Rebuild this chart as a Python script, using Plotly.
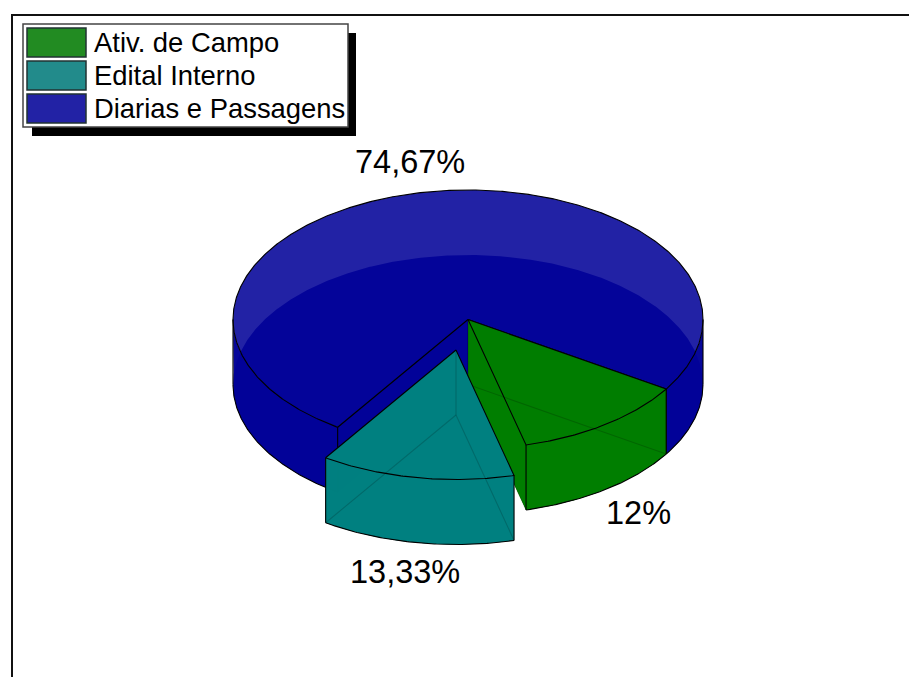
import numpy as np
import plotly.graph_objects as go

# values
categories = ["Ativ. de Campo", "Edital Interno", "Diarias e Passagens"]
percents = [12, 13.33, 74.67]
percent_labels = ["12%", "13,33%", "74,67%"]

swatch_colors = ["#228b22", "#228b8b", "#2222a5"]
# blue is see-through (top face over bottom face goes darker), the other two nearly solid
face_colors = ["rgba(0,125,0,0.97)", "rgba(0,128,128,0.97)", "rgba(0,0,151,0.867)"]
wall_colors = ["rgba(0,125,0,0.98)", "rgba(0,128,128,0.98)", "rgba(2,2,152,0.98)"]

# pie geometry in screen pixels
CX, CY = 468, 319.5
RX, RY = 235, 129.5
DEPTH = 65
START_ANGLE = 32.5
explode = [(0, 0), (-12, 30.5), (0, 0)]
label_pos = [(638, 513), (405, 572), (410, 162)]
FONT = "Liberation Sans, Arial, sans-serif"

fig = go.Figure()


def add_poly(x, y, fill=None, line=None):
    fig.add_trace(go.Scatter(
        x=x, y=y, mode="lines",
        fill="toself" if fill else "none",
        fillcolor=fill,
        line=dict(color=line or "rgba(0,0,0,0)", width=1.1),
        hoverinfo="skip", showlegend=False,
    ))


def arc(a0, a1, cx, cy):
    t = np.radians(np.linspace(a0, a1, max(int(abs(a1 - a0)) * 2, 2)))
    return cx + RX * np.cos(t), cy + RY * np.sin(t)


def sector(a0, a1, cx, cy):
    ax, ay = arc(a0, a1, cx, cy)
    return np.r_[cx, ax, cx], np.r_[cy, ay, cy]


def front_spans(a0, a1):
    # pieces of the rim that face the viewer (sin > 0)
    spans = []
    for lo, hi in [(0, 180), (360, 540)]:
        s, e = max(a0, lo), min(a1, hi)
        if s < e:
            spans.append((s, e))
    return spans


def draw_slice(a0, a1, dx, dy, face, wall):
    cx, cy = CX + dx, CY + dy
    by = cy + DEPTH
    spans = front_spans(a0, a1)

    # bottom face
    sx, sy = sector(a0, a1, cx, by)
    add_poly(sx, sy, fill=face)

    # cut walls
    for a in (a0, a1):
        ex = cx + RX * np.cos(np.radians(a))
        ey = cy + RY * np.sin(np.radians(a))
        add_poly([cx, ex, ex, cx, cx], [cy, ey, ey + DEPTH, by, cy], fill=wall)

    # rim wall
    for s, e in spans:
        tx, ty = arc(s, e, cx, cy)
        bx, bly = arc(e, s, cx, by)
        add_poly(np.r_[tx, bx, tx[0]], np.r_[ty, bly, ty[0]], fill=wall)

    # top face with its outline
    sx, sy = sector(a0, a1, cx, cy)
    add_poly(sx, sy, fill=face, line="black")

    # hidden edges still show faintly through the faces
    faint = "rgba(0,0,0,0.18)"
    for a in (a0, a1):
        add_poly([cx, cx + RX * np.cos(np.radians(a))], [by, by + RY * np.sin(np.radians(a))], line=faint)
    add_poly([cx, cx], [cy, by], line=faint)

    # visible edges of the rim
    for s, e in spans:
        bx, bly = arc(s, e, cx, by)
        add_poly(bx, bly, line="black")
        for a in (s, e):
            ex = cx + RX * np.cos(np.radians(a))
            ey = cy + RY * np.sin(np.radians(a))
            add_poly([ex, ex], [ey, ey + DEPTH], line="black")


# angular extents from the percentages, clockwise on screen
spans = []
angle = START_ANGLE
for p in percents:
    spans.append((angle, angle + p * 3.6))
    angle += p * 3.6

# back to front: big slice first, the exploded one last
for i in (2, 0, 1):
    draw_slice(spans[i][0], spans[i][1], explode[i][0], explode[i][1], face_colors[i], wall_colors[i])

shapes = [
    # outer frame runs off the page on the right and bottom
    dict(type="rect", x0=12, y0=15, x1=930, y1=700, line=dict(color="#111111", width=2)),
    # legend box with hard shadow
    dict(type="rect", x0=32, y0=33, x1=356, y1=136, fillcolor="black", line=dict(width=0)),
    dict(type="rect", x0=23, y0=24, x1=348, y1=127, fillcolor="white", line=dict(color="#444444", width=1.5)),
]
annotations = []
for i, name in enumerate(categories):
    top = 28 + i * 33
    shapes.append(dict(type="rect", x0=27, y0=top, x1=86, y1=top + 29,
                       fillcolor=swatch_colors[i], line=dict(color="#223333", width=1.5)))
    annotations.append(dict(x=92, y=top + 14, text=name, xanchor="left", yanchor="middle",
                            showarrow=False, font=dict(family=FONT, size=27.4, color="black")))

for (px, py), text in zip(label_pos, percent_labels):
    annotations.append(dict(x=px, y=py, text=text, xanchor="center", yanchor="middle",
                            showarrow=False, font=dict(family=FONT, size=32.5, color="black")))

fig.update_layout(
    width=909, height=677,
    margin=dict(l=0, r=0, t=0, b=0),
    paper_bgcolor="white", plot_bgcolor="white",
    xaxis=dict(range=[0, 909], visible=False),
    yaxis=dict(range=[677, 0], visible=False),
    shapes=shapes, annotations=annotations,
    showlegend=False,
)

fig.write_html("out.html", config={"displayModeBar": False},
               post_script="document.body.style.margin='0';document.body.style.overflow='hidden';")
